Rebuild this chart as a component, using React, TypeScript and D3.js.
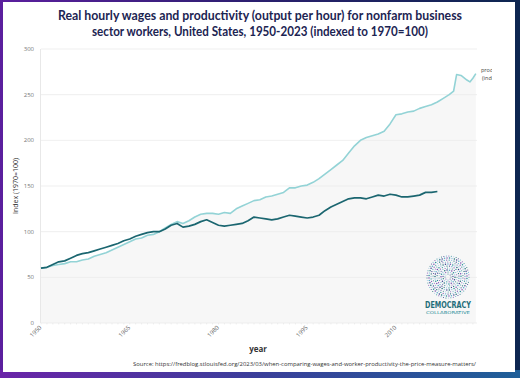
import React from "react";
import * as d3 from "d3";

const prodYears = [1950,1951,1952,1953,1954,1955,1956,1957,1958,1959,1960,1961,1962,1963,1964,1965,1966,1967,1968,1969,1970,1971,1972,1973,1974,1975,1976,1977,1978,1979,1980,1981,1982,1983,1984,1985,1986,1987,1988,1989,1990,1991,1992,1993,1994,1995,1996,1997,1998,1999,2000,2001,2002,2003,2004,2005,2006,2007,2008,2009,2010,2011,2012,2013,2014,2015,2016,2017,2018,2019,2019.75,2020.25,2021,2022,2022.5,2023,2023.5];
const prodValues = [60,61,63,64,65,67,67,69,70,73,75,77,80,83,86,89,92,93,96,97,100,104,108,111,109,112,116,119,120,120,119,121,120,125,128,131,134,135,138,139,141,143,148,148,150,151,154,158,163,168,173,178,186,194,200,203,205,207,210,218,228,229,231,232,235,237,239,242,246,250,254,272,271,266,264,268,273];

const wageYears = [1950,1951,1952,1953,1954,1955,1956,1957,1958,1959,1960,1961,1962,1963,1964,1965,1966,1967,1968,1969,1970,1971,1972,1973,1974,1975,1976,1977,1978,1979,1980,1981,1982,1983,1984,1985,1986,1987,1988,1989,1990,1991,1992,1993,1994,1995,1996,1997,1998,1999,2000,2001,2002,2003,2004,2005,2006,2007,2008,2009,2010,2011,2012,2013,2014,2015,2016,2017];
const wageValues = [60,61,64,67,68,71,74,76,77,79,81,83,85,87,90,92,95,97,99,100,100,103,107,109,105,106,108,111,113,110,107,106,107,108,109,112,116,115,114,113,114,116,118,117,116,115,116,118,123,127,130,133,136,137,137,136,138,140,139,141,140,138,138,139,140,143,143,144];

const yTicks = [0, 50, 100, 150, 200, 250, 300];
const xTicks = [1950, 1965, 1980, 1995, 2010];

const titleLines = [
  "Real hourly wages and productivity (output per hour) for nonfarm business",
  "sector workers, United States, 1950-2023 (indexed to 1970=100)",
];
const sourceText = "Source: https://fredblog.stlouisfed.org/2023/03/when-comparing-wages-and-worker-productivity-the-price-measure-matters/";

const W = 520, H = 378;
const left = 41, right = 477, top = 49, bottom = 323;

export default function App() {
  const x = d3.scaleLinear().domain([1950, 2023.7]).range([left, right]);
  const y = d3.scaleLinear().domain([0, 300]).range([bottom, top]);

  const prod = prodYears.map((yr, i) => [yr, prodValues[i]] as [number, number]);
  const wage = wageYears.map((yr, i) => [yr, wageValues[i]] as [number, number]);

  const line = d3.line<[number, number]>().x(d => x(d[0])).y(d => y(d[1]));
  const area = d3.area<[number, number]>().x(d => x(d[0])).y0(bottom).y1(d => y(d[1]));

  // logo dots (decorative)
  const dots: { cx: number; cy: number; r: number; c: string }[] = [];
  const cols = ["#1f6e7a", "#3a3f8f", "#5aa9c9", "#7a4fb0", "#2b8f9a", "#9fc9e6"];
  const lcx = 448, lcy = 277;
  for (let ring = 0; ring < 10; ring++) {
    const rr = 3 + ring * 2;
    const n = Math.round(8 + ring * 5);
    for (let k = 0; k < n; k++) {
      const a = (k / n) * Math.PI * 2 + ring * 0.37;
      dots.push({
        cx: lcx + rr * Math.cos(a),
        cy: lcy + rr * Math.sin(a),
        r: 0.5 + (ring % 3) * 0.12,
        c: cols[(k + ring) % cols.length],
      });
    }
  }

  return (
    <svg width={W} height={H} style={{ position: "absolute", left: 0, top: 0 }}
      fontFamily="'Open Sans', 'Noto Sans', sans-serif">
      <defs>
        <linearGradient id="frame" x1="0" y1="0" x2="1" y2="0">
          <stop offset="0" stopColor="#5b1f9e" />
          <stop offset="0.5" stopColor="#2a1f6e" />
          <stop offset="1" stopColor="#0d2650" />
        </linearGradient>
        <linearGradient id="frameB" x1="0" y1="0" x2="1" y2="0">
          <stop offset="0" stopColor="#6a24a8" />
          <stop offset="0.5" stopColor="#3a3f9a" />
          <stop offset="1" stopColor="#1f5f98" />
        </linearGradient>
        <clipPath id="labelClip">
          <rect x={470} y={60} width={22} height={30} />
        </clipPath>
      </defs>
      <rect x={0} y={0} width={W} height={H} fill="url(#frame)" />
      <rect x={0} y={370} width={W} height={8} fill="url(#frameB)" />
      <rect x={3} y={2} width={512} height={370} fill="#ffffff" />

      {titleLines.map((t, i) => (
        <text key={i} x={260} y={20 + i * 16} textAnchor="middle" fontSize={12.5}
          fontWeight={700} fill="#1c2452" fontFamily="Lato, 'Open Sans', sans-serif"
          textLength={i === 0 ? 404 : 336} lengthAdjust="spacingAndGlyphs">{t}</text>
      ))}

      <path d={area(prod) || ""} fill="#f7f7f7" />

      {yTicks.map(t => (
        <g key={t}>
          <line x1={left} x2={right} y1={y(t)} y2={y(t)} stroke="#ebebeb" strokeWidth={0.8} />
          <text x={34} y={y(t) + 2} textAnchor="end" fontSize={6} fill="#777">{t}</text>
        </g>
      ))}
      <line x1={left - 0.5} x2={left - 0.5} y1={top} y2={bottom} stroke="#e2e2e2" strokeWidth={0.8} />
      {d3.range(1950, 2024, 1).map(t => (
        <line key={t} x1={x(t)} x2={x(t)} y1={bottom} y2={bottom + 1.5} stroke="#e0e0e0" strokeWidth={0.5} />
      ))}

      <path d={line(prod) || ""} fill="none" stroke="#93d3d6" strokeWidth={1.6} strokeLinejoin="round" />
      <path d={line(wage) || ""} fill="none" stroke="#1b6670" strokeWidth={1.7} strokeLinejoin="round" />

      {xTicks.map(t => (
        <text key={t} transform={`translate(${x(t) + 1},${bottom + 5}) rotate(-45)`}
          textAnchor="end" fontSize={6} fill="#666">{t}</text>
      ))}

      <text transform={`translate(18,${(top + bottom) / 2 + 0}) rotate(-90)`} textAnchor="middle"
        fontSize={7} fill="#333">Index (1970=100)</text>

      <text x={258} y={352} textAnchor="middle" fontSize={8} fontWeight={700} fill="#333">year</text>

      <text x={133} y={366} fontSize={5.5} fill="#333" textLength={343}
        lengthAdjust="spacingAndGlyphs">{sourceText}</text>

      <g clipPath="url(#labelClip)">
        <text x={481} y={72} fontSize={5.5} fill="#444">productivity</text>
        <text x={482} y={80} fontSize={5.5} fill="#444">(indexed)</text>
      </g>

      {dots.map((d, i) => (
        <circle key={i} cx={d.cx} cy={d.cy} r={d.r} fill={d.c} />
      ))}
      <text x={448} y={308} textAnchor="middle" fontSize={8.5} fontWeight={700} fill="#1f6e7a"
        fontFamily="'DejaVu Sans Condensed', 'Liberation Sans Narrow', sans-serif"
        textLength={46} lengthAdjust="spacingAndGlyphs">DEMOCRACY</text>
      <text x={448} y={314} textAnchor="middle" fontSize={4} fill="#2b8f9a"
        fontFamily="'DejaVu Sans Condensed', sans-serif"
        textLength={44} lengthAdjust="spacingAndGlyphs">COLLABORATIVE</text>
    </svg>
  );
}
